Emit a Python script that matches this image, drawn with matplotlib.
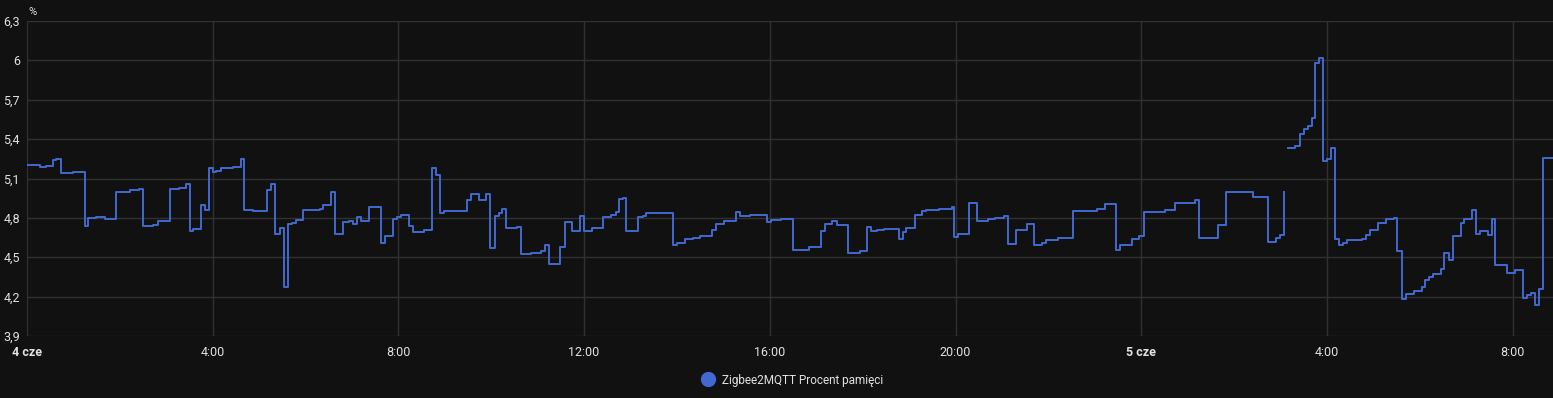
import matplotlib
matplotlib.use("Agg")
import matplotlib.pyplot as plt
from matplotlib.lines import Line2D

# hours since 4 cze 00:00, memory percent (step data)
hours_a = [0.00, 0.27, 0.42, 0.57, 0.63, 0.74, 0.99, 1.24, 1.32, 1.49, 1.67, 1.91, 2.21, 2.42,
           2.50, 2.71, 2.83, 3.08, 3.28, 3.43, 3.51, 3.57, 3.75, 3.84, 3.93, 4.00, 4.07, 4.18,
           4.43, 4.60, 4.68, 4.86, 5.18, 5.25, 5.35, 5.46, 5.54, 5.62, 5.70, 5.79, 5.95, 6.31,
           6.37, 6.54, 6.63, 6.80, 6.93, 7.02, 7.11, 7.20, 7.36, 7.63, 7.72, 7.89, 7.97, 8.06,
           8.22, 8.31, 8.55, 8.73, 8.81, 8.90, 8.98, 9.47, 9.56, 9.74, 9.89, 9.98, 10.07, 10.16,
           10.24, 10.32, 10.55, 10.63, 10.85, 11.08, 11.15, 11.24, 11.49, 11.58, 11.74, 11.91,
           11.99, 12.17, 12.41, 12.59, 12.68, 12.75, 12.84, 12.91, 13.16, 13.26, 13.34, 13.64,
           13.92, 14.01, 14.18, 14.35, 14.49, 14.76, 14.85, 15.02, 15.27, 15.35, 15.57, 15.80,
           15.94, 16.03, 16.25, 16.51, 16.85, 17.10, 17.19, 17.27, 17.35, 17.44, 17.68, 17.95,
           18.10, 18.19, 18.30, 18.46, 18.78, 18.86, 18.94, 19.04, 19.12, 19.28, 19.36, 19.65,
           19.92, 19.96, 20.05, 20.29, 20.46, 20.71, 20.85, 21.05, 21.13, 21.30, 21.54, 21.70,
           21.87, 21.95, 22.20, 22.54, 23.05, 23.22, 23.46, 23.55, 23.81, 23.96, 24.06, 24.52,
           24.73, 24.95, 25.15, 25.24, 25.65, 25.83, 26.41, 26.74, 26.91, 26.99, 27.08]
values_a = [5.20, 5.19, 5.195, 5.24, 5.25, 5.14, 5.15, 4.74, 4.80, 4.81, 4.795, 5.00, 5.01, 5.02,
            4.74, 4.745, 4.78, 5.02, 5.03, 5.06, 4.70, 4.715, 4.90, 4.86, 5.18, 5.15, 5.16, 5.18,
            5.19, 5.25, 4.86, 4.855, 5.01, 5.06, 4.675, 4.725, 4.27, 4.755, 4.76, 4.785, 4.86, 4.87,
            4.90, 5.00, 4.675, 4.77, 4.775, 4.755, 4.805, 4.78, 4.88, 4.61, 4.66, 4.795, 4.81, 4.825,
            4.74, 4.69, 4.71, 5.18, 5.13, 4.84, 4.855, 4.94, 4.98, 4.935, 4.98, 4.57, 4.815, 4.84,
            4.865, 4.725, 4.73, 4.525, 4.535, 4.545, 4.59, 4.445, 4.58, 4.77, 4.70, 4.815,
            4.70, 4.72, 4.805, 4.825, 4.845, 4.945, 4.95, 4.70, 4.81, 4.815, 4.835, 4.84,
            4.59, 4.605, 4.64, 4.645, 4.66, 4.71, 4.755, 4.775, 4.845, 4.815, 4.825, 4.82,
            4.765, 4.785, 4.79, 4.555, 4.58, 4.70, 4.75, 4.755, 4.78, 4.745, 4.535, 4.545,
            4.73, 4.70, 4.71, 4.715, 4.64, 4.69, 4.72, 4.725, 4.82, 4.855, 4.86, 4.87,
            4.88, 4.655, 4.68, 4.91, 4.775, 4.795, 4.80, 4.815, 4.60, 4.705, 4.755, 4.59,
            4.61, 4.63, 4.65, 4.855, 4.87, 4.905, 4.555, 4.59, 4.64, 4.66, 4.845, 4.86,
            4.91, 4.915, 4.94, 4.645, 4.745, 5.00, 4.962, 4.617, 4.645, 4.67, 5.00]

hours_b = [27.16, 27.32, 27.41, 27.50, 27.59, 27.67, 27.75, 27.83, 27.91, 28.00, 28.09, 28.17,
           28.26, 28.34, 28.43, 28.75, 28.84, 28.93, 29.10, 29.27, 29.44, 29.52, 29.61, 29.70,
           29.87, 30.04, 30.12, 30.20, 30.28, 30.45, 30.53, 30.62, 30.71, 30.88, 30.96, 31.12,
           31.21, 31.29, 31.46, 31.55, 31.63, 31.88, 32.06, 32.22, 32.31, 32.40, 32.48, 32.56,
           32.65, 32.87]
values_b = [5.331, 5.35, 5.44, 5.48, 5.50, 5.56, 5.98, 6.02, 5.23, 5.25, 5.33, 4.637,
            4.59, 4.61, 4.63, 4.64, 4.67, 4.71, 4.76, 4.79, 4.80, 4.548, 4.18, 4.22,
            4.24, 4.27, 4.33, 4.35, 4.37, 4.41, 4.53, 4.48, 4.66, 4.76, 4.79, 4.86,
            4.68, 4.70, 4.67, 4.79, 4.44, 4.38, 4.40, 4.19, 4.21, 4.23, 4.14, 4.26,
            5.26, 5.26]

x_tick_hours = [0, 4, 8, 12, 16, 20, 24, 28, 32]
x_tick_labels = ['4 cze', '4:00', '8:00', '12:00', '16:00', '20:00', '5 cze', '4:00', '8:00']
bold_labels = {'4 cze', '5 cze'}
y_ticks = [3.9, 4.2, 4.5, 4.8, 5.1, 5.4, 5.7, 6.0, 6.3]
y_tick_labels = ['3,9', '4,2', '4,5', '4,8', '5,1', '5,4', '5,7', '6', '6,3']
series_name = 'Zigbee2MQTT Procent pamięci'
unit = '%'

BG = '#111111'
LINE = '#4269d0'
TXT = '#e1e1e1'
GRID = '#313131'

plt.rcParams['font.family'] = ['Roboto', 'DejaVu Sans']

fig = plt.figure(figsize=(15.53, 3.98), dpi=100, facecolor=BG)
ax = fig.add_axes([27 / 1553, 1 - 336 / 398, 1 - 27 / 1553, (336 - 21) / 398])
ax.set_facecolor(BG)

ax.plot(hours_a, values_a, drawstyle='steps-post', color=LINE, lw=1.4)
ax.plot(hours_b, values_b, drawstyle='steps-post', color=LINE, lw=1.4)

ax.set_xlim(0, 32.87)
ax.set_ylim(3.9, 6.3)
ax.set_xticks(x_tick_hours)
ax.set_xticklabels(x_tick_labels)
ax.set_yticks(y_ticks)
ax.set_yticklabels(y_tick_labels)
for lab in ax.get_xticklabels():
    if lab.get_text() in bold_labels:
        lab.set_fontweight('bold')

ax.tick_params(axis='both', length=0, colors=TXT, labelsize=9)
ax.tick_params(axis='x', pad=7)
ax.tick_params(axis='y', pad=5)
ax.grid(True, color=GRID, lw=1)
ax.set_axisbelow(True)
for s in ax.spines.values():
    s.set_visible(False)

fig.text(28 / 1553, 1 - 12 / 398, unit, color=TXT, fontsize=8, va='center', ha='left')

handle = Line2D([], [], marker='o', linestyle='none', markersize=10,
                markerfacecolor=LINE, markeredgecolor=LINE)
leg = ax.legend([handle], [series_name], loc='center', bbox_to_anchor=(0.5, -0.14),
                frameon=False, fontsize=8.5, handletextpad=0.2, labelcolor=TXT)

fig.savefig('out.png', dpi=100, facecolor=BG)
